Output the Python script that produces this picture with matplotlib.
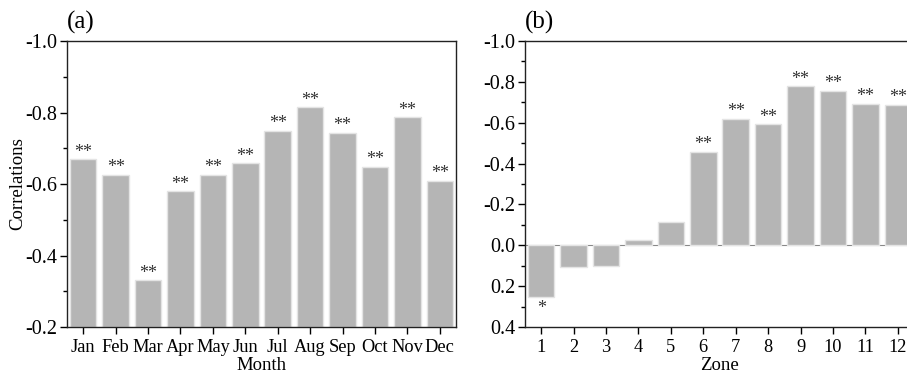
import matplotlib
matplotlib.use("Agg")
import matplotlib.pyplot as plt
from matplotlib.ticker import MultipleLocator

plt.rcParams['font.family'] = ['Liberation Serif', 'DejaVu Serif']

months = ['Jan', 'Feb', 'Mar', 'Apr', 'May', 'Jun', 'Jul', 'Aug', 'Sep', 'Oct', 'Nov', 'Dec']
month_corr = [-0.669, -0.626, -0.331, -0.580, -0.625, -0.658, -0.748, -0.814, -0.744, -0.648, -0.787, -0.609]
month_sig = ['**'] * 12

zones = [1, 2, 3, 4, 5, 6, 7, 8, 9, 10, 11, 12]
zone_corr = [0.253, 0.108, 0.099, -0.024, -0.116, -0.457, -0.620, -0.592, -0.778, -0.757, -0.692, -0.688]
zone_sig = ['*', '', '', '', '', '**', '**', '**', '**', '**', '**', '**']

W, H = 907, 373
fig = plt.figure(figsize=(W / 100, H / 100), dpi=100)

bar_color = '#b5b5b5'
edge_color = '#e4e4e4'
yfs = 14.5
xfs = 13.2
lfs = 13.5
sfs = 13

def style(ax):
    for s in ax.spines.values():
        s.set_linewidth(1.0)
        s.set_color('#222222')
    ax.tick_params(axis='both', which='major', direction='out', length=5, width=1, pad=2)
    ax.tick_params(axis='y', which='major', labelsize=yfs)
    ax.tick_params(axis='x', which='major', labelsize=xfs, pad=4)
    ax.tick_params(axis='y', which='minor', direction='out', length=3, width=1)
    ax.tick_params(axis='x', which='minor', bottom=False)

# Panel (a)
ax1 = fig.add_axes([67 / W, 1 - 327 / H, (456 - 67) / W, (327 - 41) / H])
x1 = list(range(1, 13))
base = -0.2
ax1.bar(x1, [v - base for v in month_corr], bottom=base, width=0.82,
        color=bar_color, edgecolor=edge_color, linewidth=1)
ax1.set_xlim(0.5, 12.5)
ax1.set_ylim(-0.2, -1.0)
ax1.yaxis.set_major_locator(MultipleLocator(0.2))
ax1.yaxis.set_minor_locator(MultipleLocator(0.1))
ax1.yaxis.set_major_formatter(plt.FuncFormatter(lambda v, p: f"{v:.1f}"))
ax1.set_xticks(x1)
ax1.set_xticklabels(months)
ax1.set_xlabel('Month', fontsize=lfs, labelpad=0.5)
ax1.set_ylabel('Correlations', fontsize=lfs, labelpad=-1)
for xi, v, s in zip(x1, month_corr, month_sig):
    ax1.annotate(s, (xi, v), xytext=(0, -1), textcoords='offset points',
                 ha='center', va='bottom', fontsize=sfs, color='#333333')
style(ax1)
ax1.text(0.0, 1.025, '(a)', transform=ax1.transAxes, fontsize=18, ha='left', va='bottom')

# Panel (b)
ax2 = fig.add_axes([525 / W, 1 - 327 / H, (456 - 67) / W, (327 - 41) / H])
ax2.bar(zones, zone_corr, width=0.82, color=bar_color, edgecolor=edge_color, linewidth=1)
ax2.axhline(0, color='#888888', linewidth=0.8, zorder=0)
ax2.set_xlim(0.5, 12.5)
ax2.set_ylim(0.4, -1.0)
ax2.yaxis.set_major_locator(MultipleLocator(0.2))
ax2.yaxis.set_minor_locator(MultipleLocator(0.1))
ax2.yaxis.set_major_formatter(plt.FuncFormatter(lambda v, p: f"{abs(v):.1f}" if abs(v) < 1e-9 or v > 0 else f"{v:.1f}"))
ax2.set_xticks(zones)
ax2.set_xticklabels([str(z) for z in zones])
ax2.set_xlabel('Zone', fontsize=lfs, labelpad=0.5)
for xi, v, s in zip(zones, zone_corr, zone_sig):
    if not s:
        continue
    if v < 0:
        ax2.annotate(s, (xi, v), xytext=(0, -1), textcoords='offset points',
                     ha='center', va='bottom', fontsize=sfs, color='#333333')
    else:
        ax2.annotate(s, (xi, v), xytext=(0, -2), textcoords='offset points',
                     ha='center', va='top', fontsize=sfs, color='#333333')
style(ax2)
ax2.text(0.0, 1.025, '(b)', transform=ax2.transAxes, fontsize=18, ha='left', va='bottom')

fig.savefig('out.png', dpi=100)
